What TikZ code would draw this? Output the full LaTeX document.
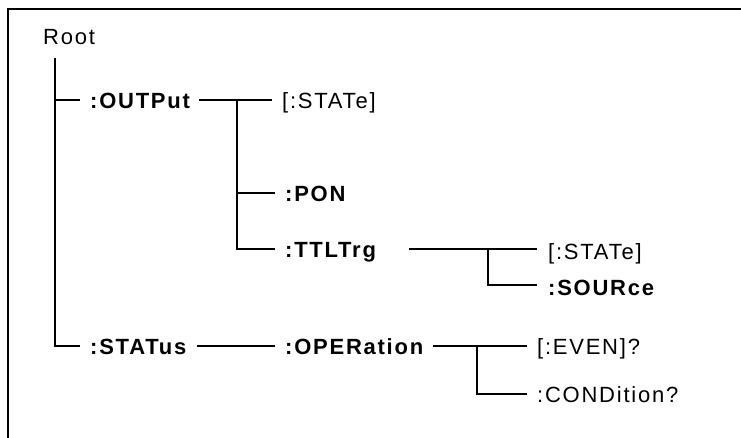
\documentclass[tikz,border=0pt]{standalone}
\usepackage{fontspec}
\setmainfont{Liberation Sans}[LetterSpace=8]
\begin{document}
\begin{tikzpicture}[x=1pt,y=-1pt,
  lbl/.style={anchor=base west,inner sep=0pt,font=\fontsize{22}{24}\selectfont},
  blbl/.style={lbl,font=\fontsize{22}{24}\selectfont\bfseries},
  conn/.style={draw=black,line width=1.4pt},
  frame/.style={draw=black,line width=2.6pt}]
\useasboundingbox (0,0) rectangle (741,437);
\draw[frame] (8,440) -- (8,9) -- (745,9);
% text nodes (base y = line y + 8)
\node[lbl]  (root)   at (43,44)  {Root};
\node[blbl] (output) at (90,108) {:OUTPut};
\node[lbl]  (st1)    at (282,108) {[:STATe]};
\node[blbl] (pon)    at (285,201) {:PON};
\node[blbl] (ttl)    at (285,257) {:TTLTrg};
\node[lbl]  (st2)    at (548,259) {[:STATe]};
\node[blbl] (src)    at (548,295) {:SOURce};
\node[blbl] (status) at (90,354) {:STATus};
\node[blbl] (oper)   at (285,354) {:OPERation};
\node[lbl]  (even)   at (537,354) {[:EVEN]?};
\node[lbl]  (cond)   at (537,402) {:CONDition?};
% connector coordinates
\coordinate (rv)  at (55,58);
\coordinate (rb1) at (55,100);
\coordinate (rb2) at (55,346);
\coordinate (ov)  at (237,100);
\coordinate (tv)  at (488,249);
\coordinate (pv)  at (477,346);
% root branches
\draw[conn] (rv) -- (rb2) -- ([xshift=-10pt,yshift=8pt]status.base west);
\draw[conn] (rb1) -- ([xshift=-10pt,yshift=8pt]output.base west);
% output branches
\draw[conn] ([xshift=9pt,yshift=8pt]output.base east) -- ([xshift=-10pt,yshift=8pt]st1.base west);
\draw[conn] (ov) |- ([xshift=-10pt,yshift=8pt]ttl.base west);
\draw[conn] (ov |- pon.base) ++(0,-8) -- ([xshift=-10pt,yshift=8pt]pon.base west);
% ttltrg branches
\draw[conn] ([xshift=33pt,yshift=8pt]ttl.base east) -- ([xshift=-11pt,yshift=10pt]st2.base west);
\draw[conn] (tv) |- ([xshift=-11pt,yshift=10pt]src.base west);
% status branches
\draw[conn] ([xshift=10pt,yshift=8pt]status.base east) -- ([xshift=-10pt,yshift=8pt]oper.base west);
\draw[conn] ([xshift=10pt,yshift=8pt]oper.base east) -- ([xshift=-10pt,yshift=8pt]even.base west);
\draw[conn] (pv) |- ([xshift=-10pt,yshift=8pt]cond.base west);
\end{tikzpicture}
\end{document}
